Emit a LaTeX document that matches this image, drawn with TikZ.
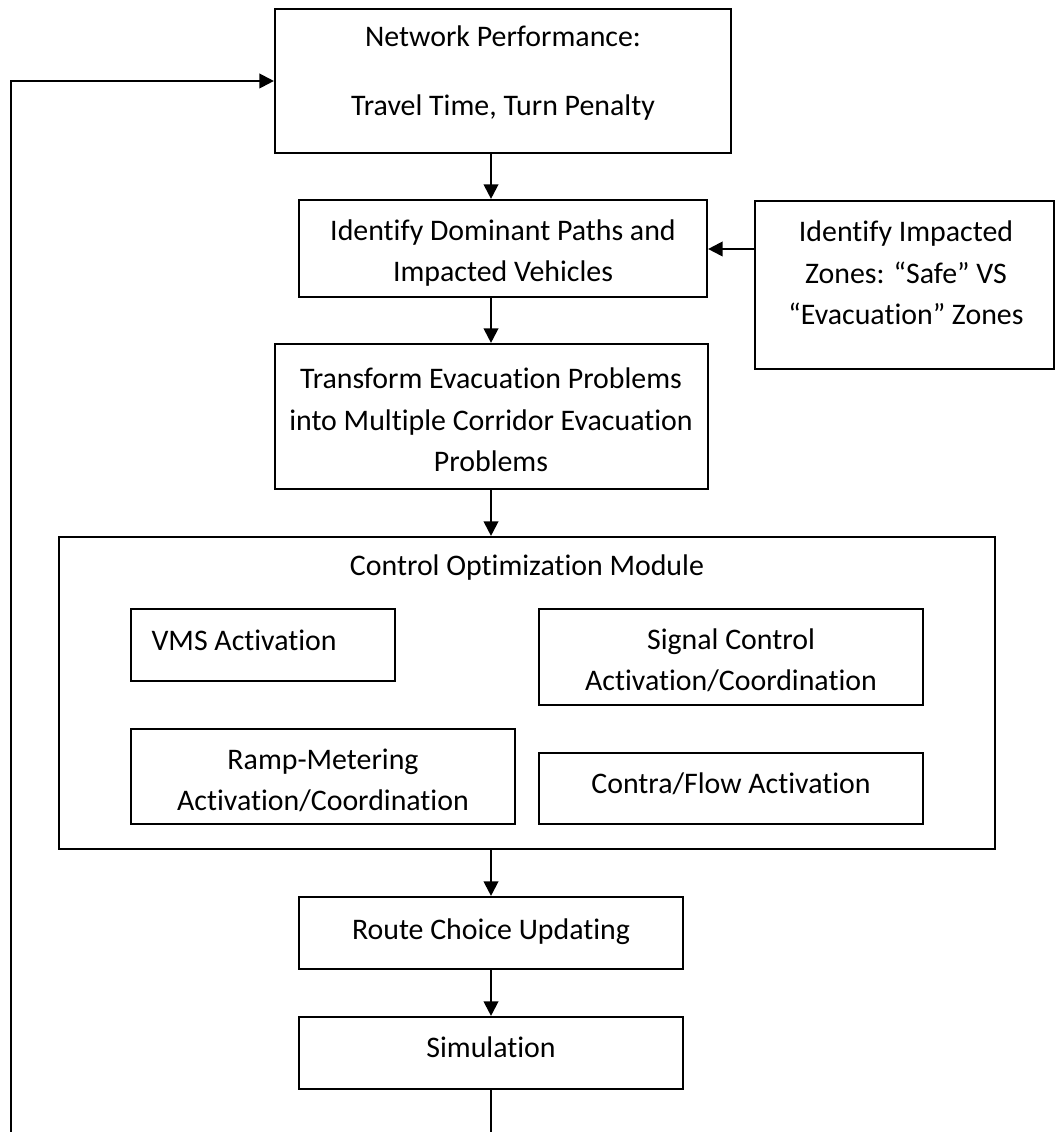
\documentclass[tikz,border=0pt]{standalone}
\usepackage{fontspec}
\setmainfont{Carlito}[Ligatures={NoCommon}]
\usetikzlibrary{arrows.meta}
\begin{document}
\begin{tikzpicture}[x=0.375pt,y=-0.375pt,
  box/.style={draw, line width=0.8pt, inner sep=0pt},
  txt/.style={inner sep=0pt, align=center, font=\fontsize{11.2pt}{15.5pt}\selectfont},
  arr/.style={line width=0.8pt, -{Triangle[length=5.5pt,width=5.5pt]}},
  conn/.style={line width=0.8pt}]
\useasboundingbox (0,0) rectangle (1057,1132);
% boxes
\node[box, minimum width=456*0.375pt, minimum height=144*0.375pt] (net) at (503,81) {};
\node[box, minimum width=408*0.375pt, minimum height=97*0.375pt] (dom) at (503,248.5) {};
\node[box, minimum width=299*0.375pt, minimum height=168*0.375pt] (zon) at (904.5,285) {};
\node[box, minimum width=433*0.375pt, minimum height=145*0.375pt] (trn) at (491.5,416.5) {};
\node[box, minimum width=936*0.375pt, minimum height=312*0.375pt] (ctl) at (527,693) {};
\node[box, minimum width=264*0.375pt, minimum height=72*0.375pt] (vms) at (263,645) {};
\node[box, minimum width=384*0.375pt, minimum height=96*0.375pt] (sig) at (731,657) {};
\node[box, minimum width=384*0.375pt, minimum height=95*0.375pt] (rmp) at (323,776.5) {};
\node[box, minimum width=384*0.375pt, minimum height=71*0.375pt] (cfa) at (731,788.5) {};
\node[box, minimum width=384*0.375pt, minimum height=72*0.375pt] (rte) at (491,933) {};
\node[box, minimum width=384*0.375pt, minimum height=72*0.375pt] (sim) at (491,1053) {};
% texts
\node[txt] (tnet) at (503,73) {Network Performance:\\[10.3pt]Travel Time, Turn Penalty};
\node[txt] (tdom) at (503,253) {Identify Dominant Paths and\\Impacted Vehicles};
\node[txt] (tzon) at (906,273) {Identify Impacted\\Zones: “Safe” VS\\“Evacuation” Zones};
\node[txt] (ttrn) at (491,420) {Transform Evacuation Problems\\into Multiple Corridor Evacuation\\Problems};
\node[txt] (tctl) at (527,568) {Control Optimization Module};
\node[txt, anchor=west] (tvms) at (151,640) {VMS Activation};
\node[txt] (tsig) at (731,660.5) {Signal Control\\Activation/Coordination};
\node[txt] (trmp) at (323,780.5) {Ramp-Metering\\Activation/Coordination};
\node[txt] (tcfa) at (731,784) {Contra/Flow Activation};
\node[txt] (trte) at (491,932) {Route Choice Updating};
\node[txt] (tsim) at (491,1047) {Simulation};
% connectors
\coordinate (ax) at (491,0);
\coordinate (loopR) at (491,1132);
\coordinate (loopL) at (11,1132);
\draw[arr] (net.south -| ax) -- (dom.north -| ax);
\draw[arr] (zon.west |- 0,249) -- (dom.east |- 0,249);
\draw[arr] (dom.south -| ax) -- (trn.north -| ax);
\draw[arr] (trn.south -| ax) -- (ctl.north -| ax);
\draw[arr] (ctl.south -| ax) -- (rte.north);
\draw[arr] (rte.south) -- (sim.north);
\draw[conn] (sim.south) -- (loopR);
\draw[arr] (loopL) |- (net.west);
\end{tikzpicture}
\end{document}
